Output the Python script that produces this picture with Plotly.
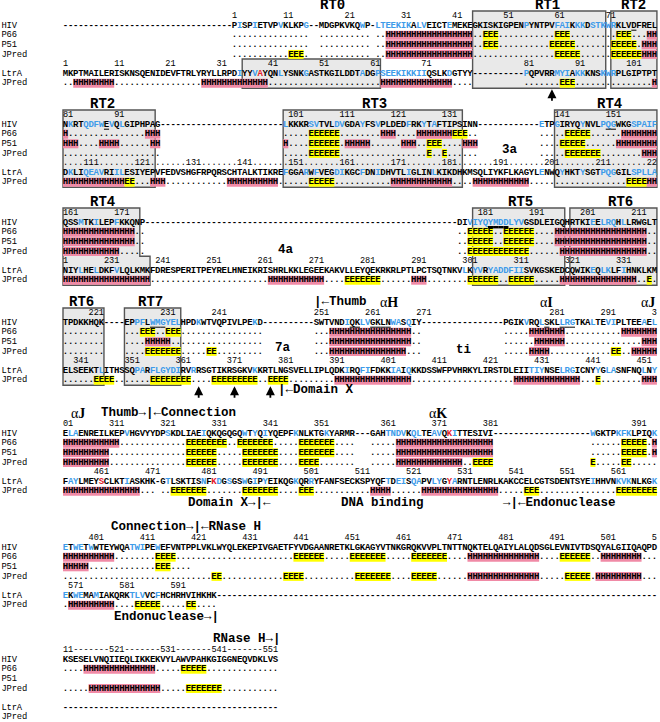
import plotly.graph_objects as go

# ------------------------------------------------------------------ data
HIV_ALN = [
    "-" * 33 + "PISPIETVPVKLKPG--MDGPKVKQWP-LTEEKIKALVEICTEMEKEGKISKIGPENPYNTPVFAIKKKDSTKWRKLVDFREL",
    "NKRTQDFWEVQLGIPHPAG" + "-" * 24 + "LKKKRSVTVLDVGDAYFSVPLDEDFRKYTAFTIPSINN" + "-" * 12 + "ETPGIRYQYNVLPQGWKGSPAIF",
    "QSSMTKILEPFKKQNP" + "-" * 61 + "DIVIYQYMDDLYVGSDLEIGQHRTKIEELRQHLLRWGLT",
    "TPDKKHQK" + "----" + "EPPFLWMGYELHPDKWTVQPIVLPEKD" + "-" * 10 + "SWTVNDIQKLVGKLNWASQIY" + "-" * 16 + "PGIKVRQLSKLLRGTKALTEVIPLTEEAEL",
    "ELAENREILKEPVHGVYYDPSKDLIAEIQKQGQGQWTYQIYQEPFKNLKTGKYARMR" + "---" + "GAHTNDVKQLTEAVQKITTESIVI" + "-" * 19 + "WGKTPKFKLPIQK",
    "ETWETWWTEYWQATWIPEWEFVNTPPLVKLWYQLEKEPIVGAETFYVDGAANRETKLGKAGYVTNKGRQKVVPLTNTTNQKTELQAIYLALQDSGLEVNIVTDSQYALGIIQAQPD",
    "KSESELVNQIIEQLIKKEKVYLAWVPAHKGIGGNEQVDKLVS",
]
LTRA_ALN = [
    "MKPTMAILERISKNSQENIDEVFTRLYRYLLRPDIYYVAYQNLYSNKGASTKGILDDTADGPSEEKIKKIIQSLKDGTYY" + "-" * 10 + "PQPVRRMYIAKKKNSKWRPLGIPTPT",
    "DKLIQEAVRIILESIYEPVFEDVSHGFRPQRSCHTALKTIKREFGGARWFVE" + "GDIKGCFDNIDHVTLIGLINLKIKDHKMSQLIYKFLKAGYLENWQYHKTYSGTPQGGILSPLLA",
    "NIYLHELDKFVLQLKMKFDRESPERITPEYRELHNEIKRISHRLKKLEGEEK" + "AKVLLEYQEKRKRLPTLPCTSQTNKVLKYVRYADDFIISVKGSKEDCQWIKEQLKLFIHNKLKM",
    "ELSEEKTLITHSSQPARFLGYDIRVRRSGTIKRSGKVKKRTLNGSVELLIPL" + "QDKIRQFIFDKKIAIQKKDSSWFPVHRKYLIRSTDLEIITIYNSELRGICNYYGLASNFNQLNY",
    "FAYLMEYSCLKTIASKHK-GTLSKTISNFKDGSGSWGIPYEIKQGKQRRYFA" + "NFSECKSPYQFTDEISQAPVLYGYARNTLENRLKAKCCELCGTSDENTSYEIHHVNKVKNLKGK",
    "EKWEMAMIAKQRKTLVVCFHCHRHVIHKHK" + "-" * 86,
    "-" * 42,
]

HIV_BLUE = [2, 5, 10, 15, 24, 26, 27, 28, 29, 30, 31, 32, 34, 35, 40, 55, 61, 62, 63, 65, 66, 68, 69,
            70, 71, 72, 82, 85, 86, 87, 88, 90, 92, 100, 105, 106, 110, 111, 115, 118, 124, 127, 129,
            138, 141, 146, 150, 151, 152, 156, 157, 158, 159, 160, 164, 167, 171, 179, 180, 181, 182,
            183, 184, 185, 186, 187, 188, 189, 203, 205, 206, 207, 209, 226, 227, 229, 230, 231, 232,
            233, 234, 238, 249, 257, 260, 261, 266, 267, 269, 276, 279, 283, 284, 285, 289, 292, 293,
            299, 301, 303, 304, 314, 322, 329, 337, 339, 341, 347, 353, 362, 363, 364, 365, 367, 368,
            371, 372, 375, 383, 388, 389, 390, 395, 396, 398, 399, 401, 409, 410, 411, 414]
HIV_RED = [374]
HIV_UNDERLINE = [76, 89, 151, 152, 229, 230, 231, 258, 259, 262, 263, 264, 265, 280, 283, 284, 285]
HIV_BAR = [183, 184, 185, 186]
LTRA_BLUE = [35, 38, 43, 48, 59, 62, 63, 64, 65, 66, 67, 68, 69, 70, 71, 76, 81, 87, 88, 89, 91, 92,
             96, 97, 98, 108, 111, 112, 113, 114, 117, 118, 150, 154, 156, 160, 161, 165, 168, 174,
             179, 200, 204, 208, 212, 213, 214, 218, 219, 220, 221, 222, 226, 229, 233, 301, 303,
             304, 306, 307, 308, 309, 310, 311, 312, 326, 328, 329, 332, 346, 353, 354, 356, 357,
             358, 359, 360, 361, 364, 376, 394, 397, 398, 403, 404, 406, 430, 431, 432, 436, 437,
             438, 443, 445, 446, 452, 454, 456, 457, 467, 474, 481, 484, 486, 489, 491, 493, 499,
             502, 517, 519, 520, 522, 523, 526, 527, 530, 557, 562, 563, 564, 569, 570, 572, 573,
             576, 583, 584, 585, 588]
LTRA_RED = [39, 462, 483, 529]

P66_H = [(28, 44), (79, 81), (97, 99), (119, 121), (126, 132), (154, 174), (196, 213), (254, 269),
         (277, 283), (295, 312), (364, 382), (395, 405), (475, 488), (501, 508), (516, 529)]
P66_E = [(47, 49), (61, 63), (73, 75), (105, 110), (133, 135), (143, 147), (179, 183), (186, 191),
         (227, 229), (232, 234), (326, 333), (336, 342), (348, 354), (389, 393), (414, 417),
         (441, 446), (452, 458), (464, 470), (493, 498), (535, 539)]
P51_LAST = 420
P51_H = [(28, 44), (78, 83), (88, 91), (98, 100), (112, 116), (123, 125), (135, 137), (153, 174),
         (196, 213), (228, 232), (254, 269), (278, 283), (299, 310), (364, 382), (395, 400)]
P51_E = [(47, 49), (60, 64), (72, 76), (105, 110), (128, 130), (142, 146), (179, 183), (186, 191),
         (326, 331), (337, 343), (348, 354), (389, 393), (414, 416)]
JP_HIV_H = [(28, 44), (78, 80), (158, 171), (197, 213), (254, 268), (277, 280), (297, 310),
            (364, 376), (475, 488), (500, 508), (517, 530)]
JP_HIV_E = [(12, 14), (61, 65), (72, 77), (105, 110), (128, 128), (131, 131), (143, 149), (179, 190),
            (228, 234), (240, 241), (293, 294), (326, 331), (337, 343), (348, 351), (379, 383),
            (389, 390), (425, 426), (439, 442), (453, 459), (464, 468), (494, 498), (536, 542)]
JP_LTRA_H = [(3, 10), (28, 40), (63, 76), (106, 118), (124, 126), (139, 148), (171, 182),
             (187, 197), (221, 239), (263, 273), (291, 293), (320, 334), (392, 406), (427, 439),
             (452, 469), (514, 517), (524, 538), (571, 579)]
JP_LTRA_E = [(88, 90), (119, 120), (155, 159), (217, 220), (278, 284), (302, 307), (310, 314),
             (337, 337), (345, 348), (356, 363), (368, 376), (379, 382), (443, 443), (475, 481),
             (489, 495), (500, 502), (544, 546), (562, 569), (584, 588), (594, 595)]

ROW_LABELS = {1: "HIV", 2: "P66", 3: "P51", 4: "JPred", 6: "LtrA", 7: "JPred"}

# ------------------------------------------------------------------ geometry
X0, CW = 63.0, 5.12
NUM_Y = [16, 115, 213, 313, 424, 538, 650]
PITCH = 9.6
NCOL = 116
BLUE, RED, BLACK = "#3d9be9", "#e5202a", "#000000"
PINK, YELLOW = "#f08aa6", "#ffff00"


def px2c(px):
    return (px - X0) / CW - 0.5


def row_y(b, k):
    return NUM_Y[b] + k * PITCH


def residues(aln):
    out, n = [], 0
    for s in aln:
        r = []
        for ch in s:
            if ch == "-":
                r.append(None)
            else:
                n += 1
                r.append(n)
        out.append(r)
    return out


HIV_RES = residues(HIV_ALN)
LTRA_RES = residues(LTRA_ALN)


def ss_char(n, hr, er):
    for a, b in hr:
        if a <= n <= b:
            return "H"
    for a, b in er:
        if a <= n <= b:
            return "E"
    return "."


def ss_row(res_row, hr, er, last=10 ** 6):
    return "".join(" " if (n is None or n > last) else ss_char(n, hr, er) for n in res_row)


def number_rows(res_rows, fillers, lengths):
    total = NCOL * len(res_rows) + 6
    arr = [None] * total
    for b, row in enumerate(res_rows):
        for c, n in enumerate(row):
            if n is not None and n % 10 == 1:
                for i, ch in enumerate(str(n)):
                    arr[b * NCOL + c + i] = ch
    rows = []
    for b in range(len(res_rows)):
        seg = arr[b * NCOL:(b + 1) * NCOL]
        f = fillers.get(b, " ")
        rows.append("".join((ch if ch is not None else (f if c < lengths[b] else " "))
                            for c, ch in enumerate(seg)))
    return rows


HIV_NUM = number_rows(HIV_RES, {6: "-"}, [len(s) for s in HIV_ALN])
LTRA_NUM = number_rows(LTRA_RES, {1: "."}, [NCOL] * 7)

pts = {"seq": [], "ss": [], "num": [], "lab": []}
shapes = []

# gray domain boxes: (block, k0, k1, c0, c1) and one stepped outline
BOXES = [(0, 5, 7, 35, 61), (0, 0, 7, 80, 105), (0, 0, 7, 107, 115),
         (1, 0, 7, 0, 17), (1, 0, 7, 43, 77), (1, 0, 7, 96, 115),
         (2, 0, 7, 80, 97), (2, 0, 7, 99, 115),
         (3, 0, 7, 0, 7), (3, 0, 7, 12, 22)]
BOX_STYLE = dict(fillcolor="#e9e9e9", line=dict(color="#555555", width=1.4), layer="below")
for b, k0, k1, c0, c1 in BOXES:
    shapes.append(dict(type="rect", xref="x", yref="y", x0=c0 - 0.5, x1=c1 + 0.5,
                       y0=row_y(b, k0) - 5, y1=row_y(b, k1) + 5, **BOX_STYLE))
_b = 2
_top, _bot = row_y(_b, 0) - 5, row_y(_b, 7) + 5
_step = (row_y(_b, 4) + row_y(_b, 5)) / 2
_l, _r1, _r2 = -0.5, 14.5, 16.5
shapes.append(dict(type="path", xref="x", yref="y",
                   path=f"M {_l},{_top} L {_r1},{_top} L {_r1},{_step} L {_r2},{_step} "
                        f"L {_r2},{_bot} L {_l},{_bot} Z", **BOX_STYLE))


def add_text_row(kind, b, k, text, colors=None):
    y = row_y(b, k)
    for c, ch in enumerate(text):
        if ch == " ":
            continue
        pts[kind].append((c, y, ch, colors[c] if colors else BLACK))


def add_hl(b, k, text):
    y = row_y(b, k)
    c = 0
    while c < len(text):
        ch = text[c]
        if ch in "HE":
            e = c
            while e + 1 < len(text) and text[e + 1] == ch:
                e += 1
            shapes.append(dict(type="rect", xref="x", yref="y", x0=c - 0.5, x1=e + 0.5,
                               y0=y - 4.5, y1=y + 4.5, fillcolor=PINK if ch == "H" else YELLOW,
                               line=dict(width=0), layer="below"))
            c = e + 1
        else:
            c += 1


def seq_colors(res_row, blue, red):
    out = []
    for n in res_row:
        if n is not None and n in red:
            out.append(RED)
        elif n is not None and n in blue:
            out.append(BLUE)
        else:
            out.append(BLACK)
    return out


hb, hr_, lb, lr = set(HIV_BLUE), set(HIV_RED), set(LTRA_BLUE), set(LTRA_RED)
hu, hbar = set(HIV_UNDERLINE), set(HIV_BAR)
for b in range(7):
    add_text_row("num", b, 0, HIV_NUM[b])
    add_text_row("seq", b, 1, HIV_ALN[b], seq_colors(HIV_RES[b], hb, hr_))
    for c, n in enumerate(HIV_RES[b]):
        if n in hu or n in hbar:
            y = row_y(b, 1) + 4.6
            shapes.append(dict(type="line", xref="x", yref="y", x0=c - 0.5, x1=c + 0.5, y0=y, y1=y,
                               line=dict(color="black", width=2.4 if n in hbar else 1)))
    rows = {2: ss_row(HIV_RES[b], P66_H, P66_E),
            3: ss_row(HIV_RES[b], P51_H, P51_E, P51_LAST),
            4: ss_row(HIV_RES[b], JP_HIV_H, JP_HIV_E),
            7: ss_row(LTRA_RES[b], JP_LTRA_H, JP_LTRA_E)}
    for k, t in rows.items():
        add_hl(b, k, t)
        add_text_row("ss", b, k, t)
    add_text_row("num", b, 5, LTRA_NUM[b])
    add_text_row("seq", b, 6, LTRA_ALN[b], seq_colors(LTRA_RES[b], lb, lr))
    for k, lab in ROW_LABELS.items():
        y = row_y(b, k)
        for i, ch in enumerate(lab):
            pts["lab"].append((-12 + i, y, ch, BLACK))

fig = go.Figure()
styles = {"seq": ("bold", 9.0), "ss": ("bold", 9.0), "num": ("normal", 8.6), "lab": ("normal", 8.8)}
for kind, p in pts.items():
    w, s = styles[kind]
    fig.add_trace(go.Scatter(x=[q[0] for q in p], y=[q[1] for q in p], text=[q[2] for q in p],
                             mode="text", textposition="middle center", hoverinfo="skip",
                             textfont=dict(family="Liberation Mono", size=s, weight=w,
                                           color=[q[3] for q in p])))

ann = []


def label(text, px, b, dy, size=13.5, family="Liberation Mono", anchor="center"):
    ann.append(dict(x=px2c(px), y=NUM_Y[b] + dy, text=text, showarrow=False, xanchor=anchor,
                    yanchor="middle", font=dict(family=family, size=size, color="black")))


HDR = -11
for txt, px, b in [("RT0", 332, 0), ("RT1", 547, 0), ("RT2", 633, 0),
                   ("RT2", 102, 1), ("RT3", 374, 1), ("RT4", 609, 1),
                   ("RT4", 102, 2), ("RT5", 520, 2), ("RT6", 620, 2),
                   ("RT6", 81, 3), ("RT7", 150, 3)]:
    label("<b>" + txt + "</b>", px, b, HDR, size=14)

label("<b>|←Thumb</b>", 312, 3, HDR, size=12.5, anchor="left")
label("α<b>H</b>", 389, 3, HDR, family="Liberation Serif", size=14)
label("α<b>I</b>", 546, 3, HDR, family="Liberation Serif", size=14)
label("α<b>J</b>", 648, 3, HDR, family="Liberation Serif", size=14)
label("α<b>J</b>", 78, 4, HDR, family="Liberation Serif", size=14)
label("<b>Thumb→|←Connection</b>", 99, 4, HDR, size=12.5, anchor="left")
label("α<b>K</b>", 438, 4, HDR, family="Liberation Serif", size=14)
label("<b>Connection→|←RNase H</b>", 109, 5, HDR, size=12.5, anchor="left")
label("<b>RNase H→|</b>", 211, 6, HDR, size=12.5, anchor="left")

label("<b>3a</b>", 510, 1, 35, size=12.5)
label("<b>4a</b>", 286, 2, 37, size=12.5)
label("<b>7a</b>", 283, 3, 35, size=12.5)
label("<b>ti</b>", 463, 3, 37, size=12.5)

label("<b>|←Domain X</b>", 276, 3, 77, size=12.5, anchor="left")
label("<b>Domain X→|←</b>", 186, 4, 79, size=12.5, anchor="left")
label("<b>DNA binding</b>", 339, 4, 79, size=12.5, anchor="left")
label("<b>→|←Endonuclease</b>", 501, 4, 79, size=12.5, anchor="left")
label("<b>Endonuclease→|</b>", 112, 5, 79, size=12.5, anchor="left")

for b, c in [(0, 95), (3, 26), (3, 33), (3, 40)]:
    ann.append(dict(x=c, y=row_y(b, 7) + 6, ax=0, ay=13, showarrow=True, arrowhead=2,
                    arrowsize=1, arrowwidth=1.8, arrowcolor="black", text=""))

fig.update_layout(
    width=660, height=722, margin=dict(l=0, r=0, t=0, b=0),
    paper_bgcolor="white", plot_bgcolor="white", showlegend=False,
    xaxis=dict(range=[px2c(0), px2c(660)], visible=False, fixedrange=True),
    yaxis=dict(range=[722, 0], visible=False, fixedrange=True),
    shapes=shapes, annotations=ann,
)
fig.write_html("out.html", config={"displayModeBar": False},
               post_script="document.body.style.margin='0px';document.body.style.padding='0px';")
